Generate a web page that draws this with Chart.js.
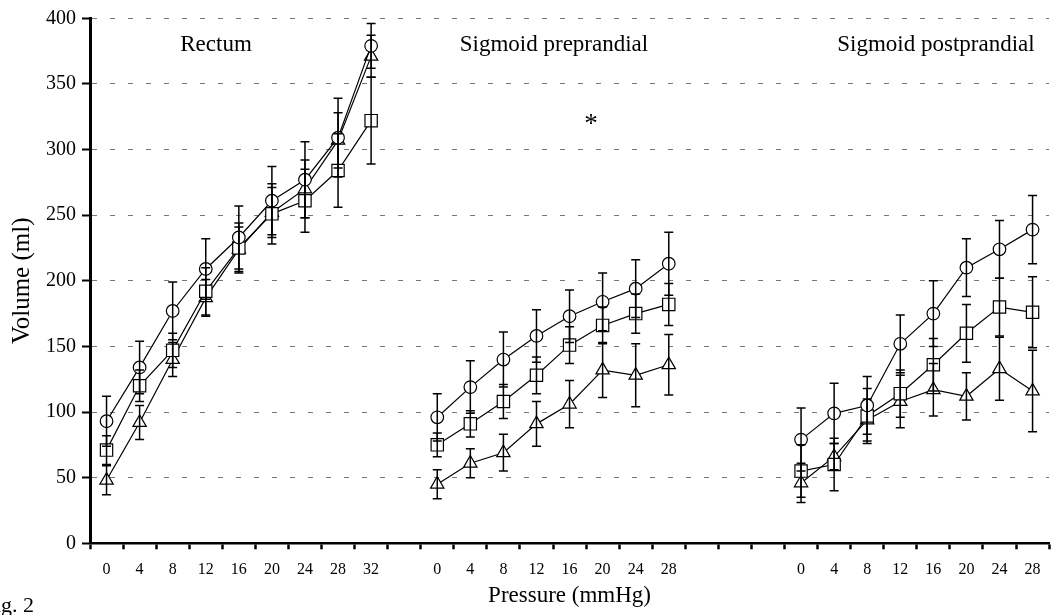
<!DOCTYPE html>
<html><head><meta charset="utf-8">
<script src="https://cdn.jsdelivr.net/npm/chart.js@4/dist/chart.umd.min.js"></script>
<style>html,body{margin:0;padding:0;background:#fff;overflow:hidden;width:1056px;height:615px}canvas{display:block}</style>
</head><body><canvas id="c" width="1059" height="615"></canvas>
<script>
// ---- categories (pressure, mmHg) ----
const rectumPressure = ['0','4','8','12','16','20','24','28','32'];
const prePressure    = ['0','4','8','12','16','20','24','28'];
const postPressure   = ['0','4','8','12','16','20','24','28'];
const gapAfterRectum = 1;
const gapAfterPre = 3;
const panelNames = ['Rectum', 'Sigmoid preprandial', 'Sigmoid postprandial'];

// ---- Rectum (volume, ml) ----
const rectumCircle      = [93, 134, 177, 209, 233, 261, 277, 309, 379];
const rectumCircleErr   = [19, 20, 22, 23, 24, 26, 29, 30, 17];
const rectumSquare      = [71, 120, 147, 192, 225, 251, 261, 284, 322];
const rectumSquareErr   = [11, 12, 13, 18, 19, 23, 24, 28, 33];
const rectumTriangle    = [48, 92, 140, 187, 224, 252, 270, 307, 371];
const rectumTriangleErr = [11, 13, 13, 14, 17, 19, 22, 21, 16];

// ---- Sigmoid preprandial ----
const preCircle      = [96, 119, 140, 158, 173, 184, 194, 213];
const preCircleErr   = [18, 20, 21, 20, 20, 22, 22, 24];
const preSquare      = [75, 91, 108, 128, 151, 166, 175, 182];
const preSquareErr   = [9, 10, 13, 14, 14, 14, 15, 16];
const preTriangle    = [45, 61, 69, 91, 106, 132, 128, 136];
const preTriangleErr = [11, 11, 14, 17, 18, 21, 24, 23];

// ---- Sigmoid postprandial ----
const postCircle      = [79, 99, 105, 152, 175, 210, 224, 239];
const postCircleErr   = [24, 23, 22, 22, 25, 22, 22, 26];
const postSquare      = [55, 60, 97, 114, 136, 160, 180, 176];
const postSquareErr   = [20, 20, 21, 18, 20, 22, 22, 27];
const postTriangle    = [46, 66, 94, 108, 117, 112, 133, 116];
const postTriangleErr = [15, 10, 16, 20, 20, 18, 24, 31];

const yTicks = {min: 0, max: 400, step: 50};

function gap(n, v) { return Array(n).fill(v); }
function join(a, b, c, fill) {
  return [...a, ...gap(gapAfterRectum, fill), ...b, ...gap(gapAfterPre, fill), ...c];
}
const labels = join(rectumPressure, prePressure, postPressure, '');

const SERIF = '"Liberation Serif", "DejaVu Serif", serif';

function series(data, errs, style, radius) {
  return {
    data: data, errors: errs,
    borderColor: '#000', borderWidth: 1.2, backgroundColor: '#fff',
    pointStyle: style, pointRadius: radius, pointBorderWidth: 1.2,
    pointBackgroundColor: '#fff', pointBorderColor: '#000',
    tension: 0, spanGaps: false, clip: false, fill: false
  };
}

const errorBarPlugin = {
  id: 'errorBars',
  afterDatasetsDraw(chart) {
    const ctx = chart.ctx, ys = chart.scales.y;
    chart.data.datasets.forEach((ds, di) => {
      const meta = chart.getDatasetMeta(di);
      ds.errors.forEach((e, i) => {
        const v = ds.data[i];
        if (v == null || e == null) return;
        const px = meta.data[i].x;
        const top = ys.getPixelForValue(v + e), bot = ys.getPixelForValue(v - e);
        ctx.save();
        ctx.strokeStyle = '#000'; ctx.lineWidth = 1.5;
        ctx.beginPath();
        ctx.moveTo(px, top); ctx.lineTo(px, bot);
        ctx.moveTo(px - 4.5, top); ctx.lineTo(px + 4.5, top);
        ctx.moveTo(px - 4.5, bot); ctx.lineTo(px + 4.5, bot);
        ctx.stroke();
        ctx.restore();
      });
    });
  }
};

const textPlugin = {
  id: 'panelText',
  afterDraw(chart) {
    const ctx = chart.ctx;
    ctx.save();
    ctx.fillStyle = '#000';
    ctx.font = '23px ' + SERIF;
    ctx.textAlign = 'center';
    ctx.textBaseline = 'alphabetic';
    ctx.fillText(panelNames[0], 216, 51);
    ctx.fillText(panelNames[1], 554, 51);
    ctx.fillText(panelNames[2], 936, 51);
    ctx.font = '27px ' + SERIF;
    ctx.fillText('*', 591, 132);
    ctx.font = '22px ' + SERIF;
    ctx.textAlign = 'right';
    ctx.fillText('Fig. 2', 34, 612);
    ctx.restore();
  }
};

new Chart(document.getElementById('c'), {
  type: 'line',
  data: {
    labels: labels,
    datasets: [
      series(join(rectumCircle, preCircle, postCircle, null), join(rectumCircleErr, preCircleErr, postCircleErr, null), 'circle', 6.3),
      series(join(rectumSquare, preSquare, postSquare, null), join(rectumSquareErr, preSquareErr, postSquareErr, null), 'rect', 8.7),
      series(join(rectumTriangle, preTriangle, postTriangle, null), join(rectumTriangleErr, preTriangleErr, postTriangleErr, null), 'triangle', 7.7)
    ]
  },
  options: {
    responsive: false, animation: false, devicePixelRatio: 1,
    layout: {padding: {top: 18.3, left: 0, right: 0, bottom: 0}},
    plugins: {legend: {display: false}, tooltip: {enabled: false}, title: {display: false}},
    scales: {
      x: {
        type: 'category', offset: true,
        afterFit(s) { s.height = 71.7; },
        grid: {offset: true, drawOnChartArea: false, drawTicks: true, tickLength: 6, tickWidth: 2.5, tickColor: '#000'},
        border: {display: true, color: '#000', width: 2.5},
        ticks: {autoSkip: false, maxRotation: 0, minRotation: 0, color: '#000', padding: 11, font: {family: SERIF, size: 16}},
        title: {display: true, text: 'Pressure (mmHg)', color: '#000', font: {family: SERIF, size: 23}, padding: {top: 0, bottom: 5}}
      },
      y: {
        min: yTicks.min, max: yTicks.max,
        afterFit(s) { s.width = 90; },
        grid: {color: '#777', lineWidth: 1, drawTicks: true, tickLength: 8, tickWidth: 2, tickColor: '#000'},
        border: {display: true, color: '#000', width: 3, dash: [5, 13]},
        ticks: {stepSize: yTicks.step, color: '#000', padding: 6, font: {family: SERIF, size: 20}},
        title: {display: true, text: 'Volume (ml)', color: '#000', font: {family: SERIF, size: 25}, padding: {top: 7, bottom: 0}}
      }
    }
  },
  plugins: [errorBarPlugin, textPlugin]
});
</script>
</body></html>
